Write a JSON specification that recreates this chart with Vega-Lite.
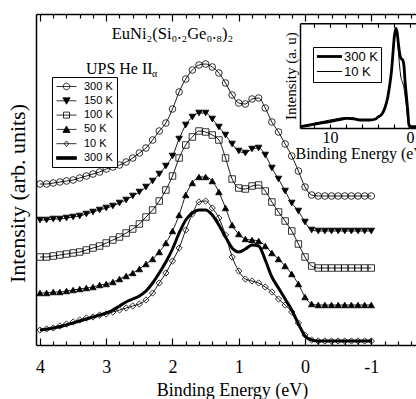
{
"$schema": "https://vega.github.io/schema/vega-lite/v6.json",
"width": 380,
"height": 331,
"autosize": "none",
"padding": {"left": 36, "top": 14, "right": 0, "bottom": 54},
"background": "white",
"config": {
  "view": {"stroke": null},
  "font": "Liberation Serif",
  "axis": {"domainColor": "black", "domainWidth": 1.5, "tickColor": "black", "tickWidth": 1.2, "labelColor": "black", "titleColor": "black", "titleFontWeight": "normal", "grid": false, "labelFont": "Liberation Serif", "titleFont": "Liberation Serif"},
  "legend": {"labelColor": "black"}
},
"datasets": {
"main": [
{"s":"300 K","e":4,"i":161},{"s":"300 K","e":3.9,"i":161},{"s":"300 K","e":3.8,"i":162},{"s":"300 K","e":3.7,"i":163},{"s":"300 K","e":3.6,"i":164},{"s":"300 K","e":3.5,"i":165},{"s":"300 K","e":3.4,"i":167},{"s":"300 K","e":3.3,"i":169},{"s":"300 K","e":3.2,"i":171},{"s":"300 K","e":3.1,"i":173},{"s":"300 K","e":3,"i":176},{"s":"300 K","e":2.9,"i":178},{"s":"300 K","e":2.8,"i":180},{"s":"300 K","e":2.7,"i":183},{"s":"300 K","e":2.6,"i":187},{"s":"300 K","e":2.5,"i":192},{"s":"300 K","e":2.4,"i":197},{"s":"300 K","e":2.3,"i":205},{"s":"300 K","e":2.2,"i":214},{"s":"300 K","e":2.1,"i":222},{"s":"300 K","e":2,"i":236},{"s":"300 K","e":1.9,"i":253},{"s":"300 K","e":1.8,"i":266},{"s":"300 K","e":1.7,"i":275},{"s":"300 K","e":1.6,"i":280},{"s":"300 K","e":1.5,"i":281},{"s":"300 K","e":1.4,"i":278},{"s":"300 K","e":1.3,"i":272},{"s":"300 K","e":1.2,"i":262},{"s":"300 K","e":1.1,"i":250},{"s":"300 K","e":1,"i":242},{"s":"300 K","e":0.9,"i":241},{"s":"300 K","e":0.8,"i":246},{"s":"300 K","e":0.7,"i":247},{"s":"300 K","e":0.6,"i":237},{"s":"300 K","e":0.5,"i":223},{"s":"300 K","e":0.4,"i":213},{"s":"300 K","e":0.3,"i":201},{"s":"300 K","e":0.2,"i":189},{"s":"300 K","e":0.1,"i":174},{"s":"300 K","e":0,"i":158},{"s":"300 K","e":-0.1,"i":150},{"s":"300 K","e":-0.2,"i":149},{"s":"300 K","e":-0.3,"i":149},{"s":"300 K","e":-0.4,"i":149},{"s":"300 K","e":-0.5,"i":149},{"s":"300 K","e":-0.6,"i":149},{"s":"300 K","e":-0.7,"i":149},{"s":"300 K","e":-0.8,"i":149},{"s":"300 K","e":-0.9,"i":149},{"s":"300 K","e":-1,"i":149},
{"s":"150 K","e":4,"i":125},{"s":"150 K","e":3.9,"i":125},{"s":"150 K","e":3.8,"i":126},{"s":"150 K","e":3.7,"i":126},{"s":"150 K","e":3.6,"i":127},{"s":"150 K","e":3.5,"i":128},{"s":"150 K","e":3.4,"i":129},{"s":"150 K","e":3.3,"i":131},{"s":"150 K","e":3.2,"i":133},{"s":"150 K","e":3.1,"i":135},{"s":"150 K","e":3,"i":137},{"s":"150 K","e":2.9,"i":139},{"s":"150 K","e":2.8,"i":142},{"s":"150 K","e":2.7,"i":145},{"s":"150 K","e":2.6,"i":149},{"s":"150 K","e":2.5,"i":153},{"s":"150 K","e":2.4,"i":158},{"s":"150 K","e":2.3,"i":164},{"s":"150 K","e":2.2,"i":171},{"s":"150 K","e":2.1,"i":179},{"s":"150 K","e":2,"i":189},{"s":"150 K","e":1.9,"i":206},{"s":"150 K","e":1.8,"i":220},{"s":"150 K","e":1.7,"i":228},{"s":"150 K","e":1.6,"i":232},{"s":"150 K","e":1.5,"i":232},{"s":"150 K","e":1.4,"i":226},{"s":"150 K","e":1.3,"i":218},{"s":"150 K","e":1.2,"i":210},{"s":"150 K","e":1.1,"i":201},{"s":"150 K","e":1,"i":194},{"s":"150 K","e":0.9,"i":192},{"s":"150 K","e":0.8,"i":196},{"s":"150 K","e":0.7,"i":197},{"s":"150 K","e":0.6,"i":190},{"s":"150 K","e":0.5,"i":177},{"s":"150 K","e":0.4,"i":166},{"s":"150 K","e":0.3,"i":154},{"s":"150 K","e":0.2,"i":142},{"s":"150 K","e":0.1,"i":134},{"s":"150 K","e":0,"i":123},{"s":"150 K","e":-0.1,"i":115},{"s":"150 K","e":-0.2,"i":114},{"s":"150 K","e":-0.3,"i":114},{"s":"150 K","e":-0.4,"i":114},{"s":"150 K","e":-0.5,"i":114},{"s":"150 K","e":-0.6,"i":114},{"s":"150 K","e":-0.7,"i":114},{"s":"150 K","e":-0.8,"i":114},{"s":"150 K","e":-0.9,"i":114},{"s":"150 K","e":-1,"i":114},
{"s":"100 K","e":4,"i":88},{"s":"100 K","e":3.9,"i":88},{"s":"100 K","e":3.8,"i":89},{"s":"100 K","e":3.7,"i":90},{"s":"100 K","e":3.6,"i":91},{"s":"100 K","e":3.5,"i":92},{"s":"100 K","e":3.4,"i":93},{"s":"100 K","e":3.3,"i":95},{"s":"100 K","e":3.2,"i":97},{"s":"100 K","e":3.1,"i":99},{"s":"100 K","e":3,"i":102},{"s":"100 K","e":2.9,"i":105},{"s":"100 K","e":2.8,"i":108},{"s":"100 K","e":2.7,"i":112},{"s":"100 K","e":2.6,"i":116},{"s":"100 K","e":2.5,"i":121},{"s":"100 K","e":2.4,"i":128},{"s":"100 K","e":2.3,"i":135},{"s":"100 K","e":2.2,"i":144},{"s":"100 K","e":2.1,"i":155},{"s":"100 K","e":2,"i":169},{"s":"100 K","e":1.9,"i":187},{"s":"100 K","e":1.8,"i":200},{"s":"100 K","e":1.7,"i":208},{"s":"100 K","e":1.6,"i":214},{"s":"100 K","e":1.5,"i":213},{"s":"100 K","e":1.4,"i":210},{"s":"100 K","e":1.3,"i":205},{"s":"100 K","e":1.2,"i":187},{"s":"100 K","e":1.1,"i":166},{"s":"100 K","e":1,"i":157},{"s":"100 K","e":0.9,"i":156},{"s":"100 K","e":0.8,"i":159},{"s":"100 K","e":0.7,"i":160},{"s":"100 K","e":0.6,"i":154},{"s":"100 K","e":0.5,"i":143},{"s":"100 K","e":0.4,"i":133},{"s":"100 K","e":0.3,"i":124},{"s":"100 K","e":0.2,"i":114},{"s":"100 K","e":0.1,"i":101},{"s":"100 K","e":0,"i":88},{"s":"100 K","e":-0.1,"i":79},{"s":"100 K","e":-0.2,"i":77},{"s":"100 K","e":-0.3,"i":77},{"s":"100 K","e":-0.4,"i":77},{"s":"100 K","e":-0.5,"i":77},{"s":"100 K","e":-0.6,"i":77},{"s":"100 K","e":-0.7,"i":77},{"s":"100 K","e":-0.8,"i":77},{"s":"100 K","e":-0.9,"i":77},{"s":"100 K","e":-1,"i":77},
{"s":"50 K","e":4,"i":52},{"s":"50 K","e":3.9,"i":52},{"s":"50 K","e":3.8,"i":53},{"s":"50 K","e":3.7,"i":53},{"s":"50 K","e":3.6,"i":54},{"s":"50 K","e":3.5,"i":55},{"s":"50 K","e":3.4,"i":56},{"s":"50 K","e":3.3,"i":57},{"s":"50 K","e":3.2,"i":58},{"s":"50 K","e":3.1,"i":60},{"s":"50 K","e":3,"i":61},{"s":"50 K","e":2.9,"i":63},{"s":"50 K","e":2.8,"i":66},{"s":"50 K","e":2.7,"i":69},{"s":"50 K","e":2.6,"i":72},{"s":"50 K","e":2.5,"i":76},{"s":"50 K","e":2.4,"i":81},{"s":"50 K","e":2.3,"i":86},{"s":"50 K","e":2.2,"i":93},{"s":"50 K","e":2.1,"i":102},{"s":"50 K","e":2,"i":114},{"s":"50 K","e":1.9,"i":130},{"s":"50 K","e":1.8,"i":150},{"s":"50 K","e":1.7,"i":162},{"s":"50 K","e":1.6,"i":168},{"s":"50 K","e":1.5,"i":168},{"s":"50 K","e":1.4,"i":164},{"s":"50 K","e":1.3,"i":153},{"s":"50 K","e":1.2,"i":137},{"s":"50 K","e":1.1,"i":120},{"s":"50 K","e":1,"i":111},{"s":"50 K","e":0.9,"i":106},{"s":"50 K","e":0.8,"i":105},{"s":"50 K","e":0.7,"i":104},{"s":"50 K","e":0.6,"i":99},{"s":"50 K","e":0.5,"i":92},{"s":"50 K","e":0.4,"i":86},{"s":"50 K","e":0.3,"i":79},{"s":"50 K","e":0.2,"i":71},{"s":"50 K","e":0.1,"i":61},{"s":"50 K","e":0,"i":48},{"s":"50 K","e":-0.1,"i":41},{"s":"50 K","e":-0.2,"i":40},{"s":"50 K","e":-0.3,"i":40},{"s":"50 K","e":-0.4,"i":40},{"s":"50 K","e":-0.5,"i":40},{"s":"50 K","e":-0.6,"i":40},{"s":"50 K","e":-0.7,"i":40},{"s":"50 K","e":-0.8,"i":40},{"s":"50 K","e":-0.9,"i":40},{"s":"50 K","e":-1,"i":40},
{"s":"10 K","e":4,"i":15},{"s":"10 K","e":3.9,"i":16},{"s":"10 K","e":3.8,"i":17},{"s":"10 K","e":3.7,"i":19},{"s":"10 K","e":3.6,"i":21},{"s":"10 K","e":3.5,"i":23},{"s":"10 K","e":3.4,"i":25},{"s":"10 K","e":3.3,"i":27},{"s":"10 K","e":3.2,"i":28},{"s":"10 K","e":3.1,"i":30},{"s":"10 K","e":3,"i":31},{"s":"10 K","e":2.9,"i":33},{"s":"10 K","e":2.8,"i":35},{"s":"10 K","e":2.7,"i":37},{"s":"10 K","e":2.6,"i":39},{"s":"10 K","e":2.5,"i":41},{"s":"10 K","e":2.4,"i":45},{"s":"10 K","e":2.3,"i":52},{"s":"10 K","e":2.2,"i":62},{"s":"10 K","e":2.1,"i":72},{"s":"10 K","e":2,"i":84},{"s":"10 K","e":1.9,"i":97},{"s":"10 K","e":1.8,"i":115},{"s":"10 K","e":1.7,"i":131},{"s":"10 K","e":1.6,"i":143},{"s":"10 K","e":1.5,"i":144},{"s":"10 K","e":1.4,"i":137},{"s":"10 K","e":1.3,"i":127},{"s":"10 K","e":1.2,"i":110},{"s":"10 K","e":1.1,"i":88},{"s":"10 K","e":1,"i":74},{"s":"10 K","e":0.9,"i":66},{"s":"10 K","e":0.8,"i":64},{"s":"10 K","e":0.7,"i":62},{"s":"10 K","e":0.6,"i":58},{"s":"10 K","e":0.5,"i":53},{"s":"10 K","e":0.4,"i":46},{"s":"10 K","e":0.3,"i":40},{"s":"10 K","e":0.2,"i":33},{"s":"10 K","e":0.1,"i":22},{"s":"10 K","e":0,"i":10},{"s":"10 K","e":-0.1,"i":5},{"s":"10 K","e":-0.2,"i":4},{"s":"10 K","e":-0.3,"i":4},{"s":"10 K","e":-0.4,"i":4},{"s":"10 K","e":-0.5,"i":4},{"s":"10 K","e":-0.6,"i":4},{"s":"10 K","e":-0.7,"i":4},{"s":"10 K","e":-0.8,"i":4},{"s":"10 K","e":-0.9,"i":4},{"s":"10 K","e":-1,"i":4},
{"s":"300 K (thick)","e":4,"i":15},{"s":"300 K (thick)","e":3.8,"i":17},{"s":"300 K (thick)","e":3.6,"i":20},{"s":"300 K (thick)","e":3.4,"i":24},{"s":"300 K (thick)","e":3.2,"i":28},{"s":"300 K (thick)","e":3,"i":32},{"s":"300 K (thick)","e":2.9,"i":35},{"s":"300 K (thick)","e":2.8,"i":39},{"s":"300 K (thick)","e":2.7,"i":43},{"s":"300 K (thick)","e":2.6,"i":46},{"s":"300 K (thick)","e":2.5,"i":49},{"s":"300 K (thick)","e":2.4,"i":54},{"s":"300 K (thick)","e":2.3,"i":62},{"s":"300 K (thick)","e":2.2,"i":72},{"s":"300 K (thick)","e":2.1,"i":83},{"s":"300 K (thick)","e":2,"i":96},{"s":"300 K (thick)","e":1.9,"i":112},{"s":"300 K (thick)","e":1.8,"i":125},{"s":"300 K (thick)","e":1.7,"i":132},{"s":"300 K (thick)","e":1.6,"i":135},{"s":"300 K (thick)","e":1.5,"i":135},{"s":"300 K (thick)","e":1.4,"i":130},{"s":"300 K (thick)","e":1.3,"i":120},{"s":"300 K (thick)","e":1.2,"i":108},{"s":"300 K (thick)","e":1.1,"i":97},{"s":"300 K (thick)","e":1,"i":93},{"s":"300 K (thick)","e":0.9,"i":96},{"s":"300 K (thick)","e":0.8,"i":100},{"s":"300 K (thick)","e":0.7,"i":99},{"s":"300 K (thick)","e":0.6,"i":85},{"s":"300 K (thick)","e":0.5,"i":68},{"s":"300 K (thick)","e":0.4,"i":57},{"s":"300 K (thick)","e":0.3,"i":46},{"s":"300 K (thick)","e":0.2,"i":35},{"s":"300 K (thick)","e":0.1,"i":21},{"s":"300 K (thick)","e":0,"i":9},{"s":"300 K (thick)","e":-0.1,"i":5},{"s":"300 K (thick)","e":-0.2,"i":4},{"s":"300 K (thick)","e":-0.5,"i":4},{"s":"300 K (thick)","e":-1,"i":4}
],
"inset": [
{"s":"300 K","e":13.7,"i":1.3},{"s":"300 K","e":12.5,"i":3},{"s":"300 K","e":11.5,"i":4.5},{"s":"300 K","e":10,"i":6.3},{"s":"300 K","e":9,"i":8},{"s":"300 K","e":7.9,"i":9.7},{"s":"300 K","e":7,"i":9.2},{"s":"300 K","e":6.25,"i":8},{"s":"300 K","e":5,"i":8},{"s":"300 K","e":4.3,"i":9},{"s":"300 K","e":4,"i":11},{"s":"300 K","e":3.5,"i":14},{"s":"300 K","e":3.1,"i":21},{"s":"300 K","e":2.8,"i":30},{"s":"300 K","e":2.5,"i":45},{"s":"300 K","e":2.3,"i":58},{"s":"300 K","e":2.1,"i":78},{"s":"300 K","e":1.95,"i":92},{"s":"300 K","e":1.75,"i":99.7},{"s":"300 K","e":1.6,"i":95},{"s":"300 K","e":1.46,"i":85},{"s":"300 K","e":1.3,"i":75},{"s":"300 K","e":1.16,"i":70},{"s":"300 K","e":0.91,"i":68},{"s":"300 K","e":0.75,"i":62},{"s":"300 K","e":0.63,"i":48},{"s":"300 K","e":0.45,"i":32},{"s":"300 K","e":0.29,"i":18},{"s":"300 K","e":0.13,"i":3},{"s":"300 K","e":0,"i":1.3},{"s":"300 K","e":-1.5,"i":1.3},
{"s":"10 K","e":13.7,"i":1.3},{"s":"10 K","e":12.5,"i":3.5},{"s":"10 K","e":11.5,"i":5.5},{"s":"10 K","e":10,"i":8},{"s":"10 K","e":9,"i":9.5},{"s":"10 K","e":7.9,"i":10.5},{"s":"10 K","e":7,"i":10},{"s":"10 K","e":6.25,"i":8.5},{"s":"10 K","e":5,"i":8},{"s":"10 K","e":4.3,"i":9},{"s":"10 K","e":4,"i":11},{"s":"10 K","e":3.5,"i":14},{"s":"10 K","e":3.1,"i":21},{"s":"10 K","e":2.8,"i":30},{"s":"10 K","e":2.5,"i":45},{"s":"10 K","e":2.3,"i":58},{"s":"10 K","e":2.1,"i":78},{"s":"10 K","e":1.95,"i":92},{"s":"10 K","e":1.75,"i":100},{"s":"10 K","e":1.6,"i":92},{"s":"10 K","e":1.46,"i":78},{"s":"10 K","e":1.3,"i":62},{"s":"10 K","e":1.16,"i":52},{"s":"10 K","e":0.91,"i":45},{"s":"10 K","e":0.75,"i":40},{"s":"10 K","e":0.63,"i":33},{"s":"10 K","e":0.45,"i":22},{"s":"10 K","e":0.29,"i":10},{"s":"10 K","e":0.13,"i":2},{"s":"10 K","e":0,"i":1.3},{"s":"10 K","e":-1.5,"i":1.3}
]
},
"layer": [
{
  "data": {"name": "main"},
  "resolve": {"axis": {"x": "independent", "y": "independent"}, "scale": {"shape": "independent", "fill": "independent", "size": "independent"}},
  "layer": [
    {
      "transform": [{"filter": "datum.s !== '300 K (thick)'"}],
      "mark": {"type": "line", "color": "black", "strokeWidth": 0.9, "interpolate": "monotone"},
      "encoding": {
        "x": {"field": "e", "type": "quantitative", "scale": {"domain": [-1.675, 4.06], "reverse": true, "nice": false, "zero": false},
          "axis": {"orient": "bottom", "values": [4,3.8,3.6,3.4,3.2,3,2.8,2.6,2.4,2.2,2,1.8,1.6,1.4,1.2,1,0.8,0.6,0.4,0.2,0,-0.2,-0.4,-0.6,-0.8,-1,-1.2,-1.4,-1.6],
            "labelExpr": "datum.value % 1 === 0 ? '' + datum.value : ''",
            "tickSize": {"condition": {"test": "datum.value % 1 === 0", "value": -7}, "value": -4},
            "labelFontSize": 18, "labelBaseline": "alphabetic", "labelPadding": 34, "labelFlush": false, "labelOverlap": false,
            "title": "Binding Energy (eV)", "titleFontSize": 18, "titleX": 196, "titleY": 50, "titleBaseline": "alphabetic", "titleAlign": "center"}},
        "y": {"field": "i", "type": "quantitative", "scale": {"domain": [0, 331], "nice": false, "zero": false},
          "axis": {"orient": "left", "labels": false, "ticks": false, "domain": true, "title": "Intensity (arb. units)", "titleFontSize": 22, "titlePadding": 7, "titleY": 179}},
        "detail": {"field": "s"}
      }
    },
    {
      "transform": [{"filter": "datum.s === '300 K (thick)'"}],
      "mark": {"type": "line", "color": "black", "strokeWidth": 3, "interpolate": "monotone"},
      "encoding": {
        "x": {"field": "e", "type": "quantitative", "scale": {"domain": [-1.675, 4.06], "reverse": true, "nice": false, "zero": false}, "axis": null},
        "y": {"field": "i", "type": "quantitative", "scale": {"domain": [0, 331], "nice": false, "zero": false}, "axis": null}
      }
    },
    {
      "transform": [{"filter": "datum.s !== '300 K (thick)'"}],
      "mark": {"type": "point", "filled": true, "stroke": "black", "strokeWidth": 0.8, "opacity": 1},
      "encoding": {
        "x": {"field": "e", "type": "quantitative", "scale": {"domain": [-1.675, 4.06], "reverse": true, "nice": false, "zero": false},
          "axis": {"orient": "top", "values": [4,3.8,3.6,3.4,3.2,3,2.8,2.6,2.4,2.2,2,1.8,1.6,1.4,1.2,1,0.8,0.6,0.4,0.2,0,-0.2,-0.4,-0.6,-0.8,-1,-1.2,-1.4,-1.6],
            "labels": false, "title": null, "domain": true,
            "tickSize": {"condition": {"test": "datum.value % 1 === 0", "value": -7}, "value": -4}}},
        "y": {"field": "i", "type": "quantitative", "scale": {"domain": [0, 331], "nice": false, "zero": false}, "axis": null},
        "shape": {"field": "s", "type": "nominal", "scale": {"domain": ["300 K","150 K","100 K","50 K","10 K"], "range": ["circle","triangle-down","square","triangle-up","diamond"]}, "legend": null},
        "fill": {"field": "s", "type": "nominal", "scale": {"domain": ["300 K","150 K","100 K","50 K","10 K"], "range": ["transparent","black","transparent","black","transparent"]}, "legend": null},
        "size": {"field": "s", "type": "nominal", "scale": {"domain": ["300 K","150 K","100 K","50 K","10 K"], "range": [44,40,42,40,30]}, "legend": null}
      }
    },
    {
      "transform": [{"filter": "false"}],
      "mark": {"type": "point", "filled": true, "stroke": "black", "strokeWidth": 0.8, "size": 64, "opacity": 1},
      "encoding": {
        "x": {"field": "e", "type": "quantitative", "scale": {"domain": [-1.675, 4.06], "reverse": true, "nice": false, "zero": false}, "axis": null},
        "y": {"field": "i", "type": "quantitative", "scale": {"domain": [0, 331], "nice": false, "zero": false}, "axis": null},
        "shape": {"field": "s", "type": "nominal",
          "scale": {"domain": ["300 K","150 K","100 K","50 K","10 K","300 K (thick)"],
            "range": ["M-2.5,0L2.5,0M0.82,0A0.82,0.82,0,1,1,-0.82,0A0.82,0.82,0,1,1,0.82,0Z",
                      "M-2.5,0L2.5,0M-0.9,-0.75L0.9,-0.75L0,0.85Z",
                      "M-2.5,0L2.5,0M-0.75,-0.75L0.75,-0.75L0.75,0.75L-0.75,0.75Z",
                      "M-2.5,0L2.5,0M-0.9,0.75L0.9,0.75L0,-0.85Z",
                      "M-2.5,0L2.5,0M0,-0.7L0.6,0L0,0.7L-0.6,0Z",
                      "M-2.5,-0.35L2.5,-0.35L2.5,0.35L-2.5,0.35Z"]},
          "legend": {"orient": "none", "legendX": 16, "legendY": 63, "title": null, "padding": 4, "strokeColor": "black", "fillColor": "white",
            "symbolOffset": 5, "labelOffset": 12, "labelFont": "Liberation Sans", "labelFontSize": 11, "labelColor": "black", "rowPadding": 2.3,
            "symbolStrokeColor": "black", "symbolStrokeWidth": 0.8, "symbolSize": 64, "symbolOpacity": 1, "labelExpr": "replace(datum.label, ' (thick)', '')",
            "encode": {"symbols": {"update": {"stroke": {"value": "black"}, "strokeWidth": {"value": 0.8}, "opacity": {"value": 1}}}, "legend": {"update": {"stroke": {"value": "black"}, "strokeWidth": {"value": 1}}}}}},
        "fill": {"field": "s", "type": "nominal",
          "scale": {"domain": ["300 K","150 K","100 K","50 K","10 K","300 K (thick)"], "range": ["transparent","black","transparent","black","transparent","black"]},
          "legend": {"orient": "none", "legendX": 16, "legendY": 63, "title": null, "padding": 4, "strokeColor": "black", "fillColor": "white",
            "symbolOffset": 5, "labelOffset": 12, "labelFont": "Liberation Sans", "labelFontSize": 11, "labelColor": "black", "rowPadding": 2.3,
            "symbolStrokeColor": "black", "symbolStrokeWidth": 0.8, "symbolSize": 64, "symbolOpacity": 1, "labelExpr": "replace(datum.label, ' (thick)', '')",
            "encode": {"symbols": {"update": {"stroke": {"value": "black"}, "strokeWidth": {"value": 0.8}, "opacity": {"value": 1}}}, "legend": {"update": {"stroke": {"value": "black"}, "strokeWidth": {"value": 1}}}}}}
      }
    },
    {
      "data": {"values": [{}]},
      "mark": {"type": "text", "text": "EuNi₂(Si₀.₂Ge₀.₈)₂", "font": "Liberation Serif", "fontSize": 16.5, "align": "center", "baseline": "alphabetic", "color": "black"},
      "encoding": {
        "x": {"datum": 2.0, "type": "quantitative", "scale": {"domain": [-1.675, 4.06], "reverse": true, "nice": false, "zero": false}, "axis": null},
        "y": {"datum": 306, "type": "quantitative", "scale": {"domain": [0, 331], "nice": false, "zero": false}, "axis": null}
      }
    },
    {
      "data": {"values": [{}]},
      "mark": {"type": "text", "text": "UPS He II", "font": "Liberation Serif", "fontSize": 16, "align": "left", "baseline": "alphabetic", "color": "black"},
      "encoding": {
        "x": {"datum": 3.306, "type": "quantitative", "scale": {"domain": [-1.675, 4.06], "reverse": true, "nice": false, "zero": false}, "axis": null},
        "y": {"datum": 271, "type": "quantitative", "scale": {"domain": [0, 331], "nice": false, "zero": false}, "axis": null}
      }
    },
    {
      "data": {"values": [{}]},
      "mark": {"type": "text", "text": "α", "font": "Liberation Serif", "fontSize": 10, "align": "left", "baseline": "alphabetic", "color": "black"},
      "encoding": {
        "x": {"datum": 2.31, "type": "quantitative", "scale": {"domain": [-1.675, 4.06], "reverse": true, "nice": false, "zero": false}, "axis": null},
        "y": {"datum": 268, "type": "quantitative", "scale": {"domain": [0, 331], "nice": false, "zero": false}, "axis": null}
      }
    }
  ]
},
{
  "data": {"name": "inset"},
  "resolve": {"axis": {"x": "independent", "y": "independent"}},
  "layer": [
    {
      "mark": {"type": "line", "color": "black", "interpolate": "monotone"},
      "encoding": {
        "x": {"field": "e", "type": "quantitative", "scale": {"domain": [-1.5, 13.75], "range": [386, 264], "nice": false, "zero": false},
          "axis": {"orient": "bottom", "offset": -217, "values": [12,10,8,6,4,2,0], "labelExpr": "datum.value === 10 || datum.value === 0 ? datum.label : ''",
            "tickSize": -4, "labelFontSize": 16, "labelBaseline": "alphabetic", "labelPadding": 18, "labelFlush": false, "labelOverlap": false, "domain": true,
            "title": "Binding Energy (eV)", "titleFontSize": 16, "titleAlign": "left", "titleX": 259, "titleY": 30, "titleBaseline": "alphabetic"}},
        "y": {"field": "i", "type": "quantitative", "scale": {"domain": [0, 104.7], "range": [114, 9.3], "nice": false, "zero": false},
          "axis": {"orient": "left", "offset": -264, "labels": false, "ticks": false, "domain": true, "title": "Intensity (a. u)", "titleFontSize": 15, "titlePadding": 2}},
        "strokeWidth": {"field": "s", "type": "nominal", "scale": {"domain": ["300 K", "10 K"], "range": [2.8, 1]},
          "legend": {"orient": "none", "legendX": 277, "legendY": 33, "title": null, "padding": 3, "strokeColor": "black", "fillColor": "white",
            "symbolType": "M-3,0L3,0", "symbolSize": 70, "symbolOffset": 7, "labelOffset": 8, "symbolStrokeColor": "black",
            "labelFont": "Liberation Sans", "labelFontSize": 13, "labelColor": "black", "rowPadding": 1,
            "encode": {"legend": {"update": {"stroke": {"value": "black"}, "strokeWidth": {"value": 1}}}}}},
        "detail": {"field": "s"}
      }
    },
    {
      "mark": {"type": "point", "opacity": 0},
      "encoding": {
        "x": {"field": "e", "type": "quantitative", "scale": {"domain": [-1.5, 13.75], "range": [386, 264], "nice": false, "zero": false},
          "axis": {"orient": "top", "offset": -9.3, "values": [12,10,8,6,4,2,0], "labels": false, "tickSize": -4, "domain": true, "title": null}},
        "y": {"field": "i", "type": "quantitative", "scale": {"domain": [0, 104.7], "range": [114, 9.3], "nice": false, "zero": false}, "axis": null}
      }
    }
  ]
}
],
"resolve": {"scale": {"x": "independent", "y": "independent"}}
}
